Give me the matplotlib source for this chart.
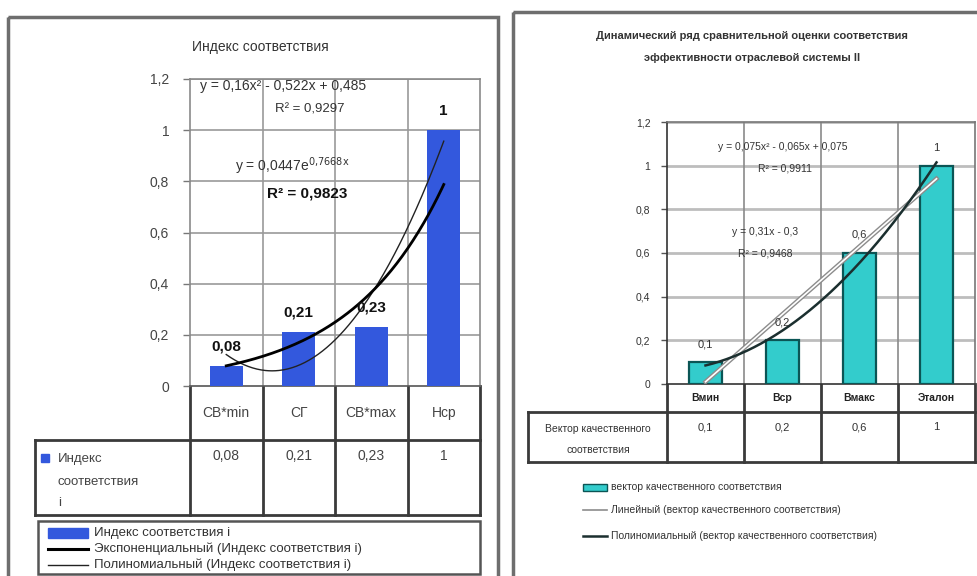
import numpy as np
import matplotlib
matplotlib.use("Agg")
import matplotlib.pyplot as plt
from matplotlib.patches import Rectangle
from matplotlib.lines import Line2D
from matplotlib.transforms import blended_transform_factory as blend

plt.rcParams['font.family'] = ['Liberation Sans', 'DejaVu Sans']

# ---------------- data ----------------
left_title = "Индекс соответствия"
left_categories = ["СВ*min", "СГ", "СВ*max", "Нср"]
left_values = [0.08, 0.21, 0.23, 1.0]
left_value_labels = ["0,08", "0,21", "0,23", "1"]
left_series = "Индекс соответствия i"
left_poly_eq = "y = 0,16x² - 0,522x + 0,485"
left_poly_r2 = "R² = 0,9297"
left_exp_eq = r"y = 0,0447e$^{0{,}7668\mathrm{x}}$"
left_exp_r2 = "R² = 0,9823"

right_title = ["Динамический ряд сравнительной оценки соответствия",
               "эффективности отраслевой системы II"]
right_categories = ["Вмин", "Вср", "Вмакс", "Эталон"]
right_values = [0.1, 0.2, 0.6, 1.0]
right_value_labels = ["0,1", "0,2", "0,6", "1"]
right_series = "вектор качественного соответствия"
right_row_header = ["Вектор качественного", "соответствия"]
right_poly_eq = "y = 0,075x² - 0,065x + 0,075"
right_poly_r2 = "R² = 0,9911"
right_lin_eq = "y = 0,31x - 0,3"
right_lin_r2 = "R² = 0,9468"

yticks = [0, 0.2, 0.4, 0.6, 0.8, 1.0, 1.2]
ytick_labels = ["0", "0,2", "0,4", "0,6", "0,8", "1", "1,2"]

# ---------------- figure ----------------
W, H = 978, 576
fig = plt.figure(figsize=(W / 100, H / 100), dpi=100)
fig.patch.set_facecolor("white")


def rect(x0, y0, x1, y1):
    return [x0 / W, 1 - y1 / H, (x1 - x0) / W, (y1 - y0) / H]


def ftext(x, y, s, **kw):
    kw.setdefault("zorder", 10)
    return fig.text(x / W, 1 - y / H, s, **kw)


ov = fig.add_axes([0, 0, 1, 1], zorder=0)
ov.set_xlim(0, W)
ov.set_ylim(H, 0)
ov.axis("off")

# panel frames
ov.add_patch(Rectangle((8, 17), 490, 600, fill=False, ec="#6e6e6e", lw=2.5))
ov.add_patch(Rectangle((513, 12), 480, 600, fill=False, ec="#6e6e6e", lw=2.5))

# ================= LEFT CHART =================
ax1 = fig.add_axes(rect(190, 79, 480, 386), zorder=2)
x1 = np.arange(1, len(left_values) + 1)
ax1.set_xlim(0.5, len(left_values) + 0.5)
ax1.set_ylim(0, 1.2)
ax1.set_yticks(yticks)
ax1.set_yticklabels(ytick_labels, fontsize=10, color="#444444")
ax1.set_xticks([])
ax1.tick_params(axis="y", direction="out", length=5, width=1, color="#777777", pad=10)
for s in ax1.spines.values():
    s.set_color("#8a8a8a")
    s.set_linewidth(1.2)
ax1.spines["bottom"].set_color("#555555")
for yv in yticks[1:]:
    ax1.axhline(yv, color="#9a9a9a", lw=1.2, zorder=1)
for xv in np.arange(1.5, len(left_values), 1.0):
    ax1.axvline(xv, color="#9a9a9a", lw=1.2, zorder=1)

ax1.bar(x1, left_values, width=0.45, color="#3358dd", zorder=3)
xs = np.linspace(1, len(left_values), 200)
pc = np.polyfit(x1, left_values, 2)
ax1.plot(xs, np.polyval(pc, xs), color="#222222", lw=1.0, zorder=4)
ec = np.polyfit(x1, np.log(left_values), 1)
ax1.plot(xs, np.exp(np.polyval(ec, xs)), color="black", lw=2.0, zorder=5)
for xv, v, lbl in zip(x1, left_values, left_value_labels):
    ax1.annotate(lbl, (xv, v), xytext=(0, 14), textcoords="offset points",
                 ha="center", va="center", fontsize=11, fontweight="bold",
                 color="#111111", zorder=6)

ftext(260, 47, left_title, fontsize=10, color="#333333", ha="center", va="center")
ftext(200, 86, left_poly_eq, fontsize=10, color="#333333", ha="left", va="center")
ftext(310, 109, left_poly_r2, fontsize=9.5, color="#333333", ha="center", va="center")
ftext(235, 166, left_exp_eq, fontsize=10, color="#333333", ha="left", va="center")
ftext(307, 194, left_exp_r2, fontsize=11, color="#111111", fontweight="bold",
      ha="center", va="center")

# left data table
tl = blend(ax1.transData, ov.transData)
tc = "#3a3a3a"
ov.plot([35, 480], [440, 440], color=tc, lw=2)
ov.plot([35, 480], [515, 515], color=tc, lw=2)
ov.plot([35, 35], [440, 515], color=tc, lw=2)
ov.plot([190, 190], [386, 515], color=tc, lw=2)
ov.plot([480, 480], [386, 515], color=tc, lw=2)
for xv in np.arange(1.5, len(left_values), 1.0):
    ov.plot([xv, xv], [386, 515], color=tc, lw=2, transform=tl)
for xv, c in zip(x1, left_categories):
    ov.text(xv, 413, c, transform=tl, ha="center", va="center", fontsize=10, color="#444444")
for xv, lbl in zip(x1, left_value_labels):
    ov.text(xv, 456, lbl, transform=tl, ha="center", va="center", fontsize=10, color="#444444")
ov.add_patch(Rectangle((41, 454), 8, 8, color="#3358dd"))
ov.text(58, 459, "Индекс", fontsize=9.5, color="#444444", va="center")
ov.text(58, 482, "соответствия", fontsize=9.5, color="#444444", va="center")
ov.text(58, 503, "i", fontsize=9.5, color="#444444", va="center")

# left legend
ov.add_patch(Rectangle((38, 521), 442, 53, fill=False, ec="#555555", lw=1.8))
ov.add_patch(Rectangle((48, 528), 40, 10, color="#3358dd"))
ov.add_line(Line2D([48, 88], [549, 549], color="black", lw=2.2))
ov.add_line(Line2D([48, 88], [565, 565], color="#222222", lw=1.0))
ov.text(94, 533, left_series, fontsize=9.5, color="#333333", va="center")
ov.text(94, 549, "Экспоненциальный (" + left_series + ")", fontsize=9.5, color="#333333", va="center")
ov.text(94, 565, "Полиномиальный (" + left_series + ")", fontsize=9.5, color="#333333", va="center")

# ================= RIGHT CHART =================
ax2 = fig.add_axes(rect(667, 122, 975, 384), zorder=2)
x2 = np.arange(1, len(right_values) + 1)
ax2.set_xlim(0.5, len(right_values) + 0.5)
ax2.set_ylim(0, 1.2)
ax2.set_yticks(yticks)
ax2.set_yticklabels(ytick_labels, fontsize=7.5, color="#333333")
ax2.set_xticks([])
ax2.tick_params(axis="y", direction="out", length=4, width=1, color="#555555", pad=8)
for s in ax2.spines.values():
    s.set_color("#777777")
    s.set_linewidth(1.2)
ax2.spines["bottom"].set_color("#333333")
ax2.spines["left"].set_color("#333333")
for yv in yticks[1:]:
    ax2.axhline(yv, color="#bdbdbd", lw=2.0, zorder=1)
for xv in np.arange(1.5, len(right_values), 1.0):
    ax2.axvline(xv, color="#8a8a8a", lw=1.2, zorder=1)

ax2.bar(x2, right_values, width=0.42, color="#33cccc", edgecolor="#0b5555", lw=1.6, zorder=3)
lc = np.polyfit(x2, right_values, 1)
ax2.plot(xs, np.polyval(lc, xs), color="#8c8c8c", lw=3.2, zorder=4)
ax2.plot(xs, np.polyval(lc, xs), color="white", lw=1.2, zorder=4)
pc2 = np.polyfit(x2, right_values, 2)
ax2.plot(xs, np.polyval(pc2, xs), color="#1b2f2f", lw=1.8, zorder=5)
for xv, v, lbl in zip(x2, right_values, right_value_labels):
    ax2.annotate(lbl, (xv, v), xytext=(0, 13), textcoords="offset points",
                 ha="center", va="center", fontsize=8, color="#333333", zorder=6)

ftext(752, 36, right_title[0], fontsize=8, fontweight="bold", color="#333333", ha="center", va="center")
ftext(752, 58, right_title[1], fontsize=8, fontweight="bold", color="#333333", ha="center", va="center")
ftext(783, 147, right_poly_eq, fontsize=7.5, color="#333333", ha="center", va="center")
ftext(785, 168, right_poly_r2, fontsize=7.5, color="#333333", ha="center", va="center")
ftext(765, 232, right_lin_eq, fontsize=7.5, color="#333333", ha="center", va="center")
ftext(765, 253, right_lin_r2, fontsize=7.5, color="#333333", ha="center", va="center")

# right data table
tr = blend(ax2.transData, ov.transData)
ov.plot([528, 975], [412, 412], color=tc, lw=2)
ov.plot([528, 975], [462, 462], color=tc, lw=2)
ov.plot([528, 528], [412, 462], color=tc, lw=2)
ov.plot([667, 667], [384, 462], color=tc, lw=2)
ov.plot([975, 975], [384, 462], color=tc, lw=2)
for xv in np.arange(1.5, len(right_values), 1.0):
    ov.plot([xv, xv], [384, 462], color=tc, lw=2, transform=tr)
for xv, c in zip(x2, right_categories):
    ov.text(xv, 398, c, transform=tr, ha="center", va="center", fontsize=7.5,
            fontweight="bold", color="#222222")
for xv, lbl in zip(x2, right_value_labels):
    ov.text(xv, 427, lbl, transform=tr, ha="center", va="center", fontsize=8, color="#333333")
ov.text(598, 429, right_row_header[0], fontsize=7.5, color="#333333", ha="center", va="center")
ov.text(598, 450, right_row_header[1], fontsize=7.5, color="#333333", ha="center", va="center")

# right legend
ov.add_patch(Rectangle((583, 484), 24, 7, facecolor="#33cccc", edgecolor="#0b5555", lw=1))
ov.add_line(Line2D([583, 607], [510, 510], color="#8c8c8c", lw=1.2))
ov.add_line(Line2D([583, 607], [536, 536], color="#1b2f2f", lw=1.8))
ov.text(611, 487, right_series, fontsize=7.5, color="#333333", va="center")
ov.text(611, 510, "Линейный (" + right_series + ")", fontsize=7.5, color="#333333", va="center")
ov.text(611, 536, "Полиномиальный (" + right_series + ")", fontsize=7.5, color="#333333", va="center")

fig.savefig("out.png", dpi=100)
